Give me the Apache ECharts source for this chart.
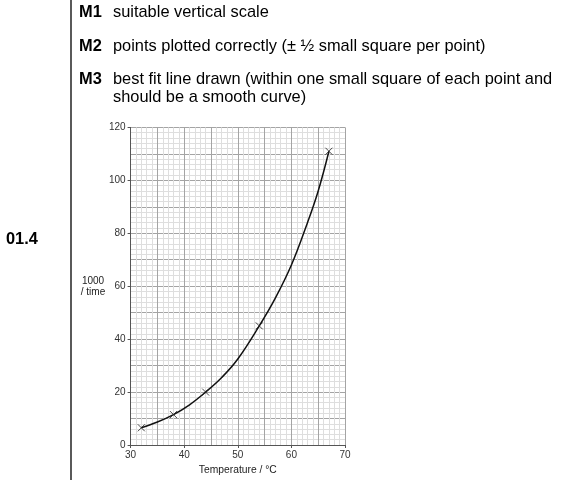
<!DOCTYPE html>
<html><head><meta charset="utf-8">
<script src="https://cdn.jsdelivr.net/npm/echarts@6/dist/echarts.min.js"></script>
<style>html,body{margin:0;padding:0;background:#fff}#c{width:561px;height:480px}</style>
</head><body><div id="c"></div>
<script>
// Data
var pointsX = [32, 38, 44, 54, 67];
var pointsY = [6.5, 11.5, 20, 45, 111];
var curveX = [32, 35, 38, 41, 44, 47, 50, 54, 57, 60, 63, 65, 67];
var curveY = [6.5, 8.7, 11.5, 15.2, 20, 25.5, 32.5, 45, 55.5, 68, 84, 96, 111];
var xTicks = [30, 40, 50, 60, 70];
var yTicks = [0, 20, 40, 60, 80, 100, 120];
var markRows = [
  ['M1', 'suitable vertical scale'],
  ['M2', 'points plotted correctly (\u00b1 \u00bd small square per point)'],
  ['M3', 'best fit line drawn (within one small square of each point and'],
  ['', 'should be a smooth curve)']
];
var questionLabel = '01.4';
var yName = '1000\n/ time';
var xName = 'Temperature / \u00b0C';

var chart = echarts.init(document.getElementById('c'), null, {renderer: 'canvas'});
var FONT = '"Liberation Sans", Arial, sans-serif';
var rowY = [12, 46, 79, 97];
var graphics = [
  {type: 'line', shape: {x1: 71, y1: 0, x2: 71, y2: 480}, style: {stroke: '#000', lineWidth: 1.3}, z: 10},
  {type: 'text', x: 6, y: 239, style: {text: questionLabel, font: 'bold 16.4px ' + FONT, fill: '#000', textVerticalAlign: 'middle'}},
  {type: 'text', x: 93, y: 287, style: {text: yName, font: '10px ' + FONT, fill: '#222', textAlign: 'center', textVerticalAlign: 'middle', lineHeight: 11}}
];
markRows.forEach(function (r, i) {
  if (r[0]) graphics.push({type: 'text', x: 79, y: rowY[i], style: {text: r[0], font: 'bold 16.4px ' + FONT, fill: '#000', textVerticalAlign: 'middle'}});
  graphics.push({type: 'text', x: 113, y: rowY[i], style: {text: r[1], font: '16.4px ' + FONT, fill: '#000', textVerticalAlign: 'middle'}});
});

var grid = {left: 130.6, right: 216, top: 127.4, bottom: 32.6, containLabel: false};
var labelStyle = {color: '#333', fontSize: 10, fontFamily: FONT};
chart.setOption({
  animation: false,
  backgroundColor: '#fff',
  graphic: graphics,
  grid: grid,
  xAxis: [
    {type: 'value', min: xTicks[0], max: xTicks[xTicks.length - 1], interval: 10,
     axisLine: {show: true, lineStyle: {color: '#555', width: 1}},
     axisTick: {show: true, length: 3, lineStyle: {color: '#555'}},
     axisLabel: {show: true, margin: 5, ...labelStyle},
     splitLine: {show: false},
     name: xName, nameLocation: 'middle', nameGap: 20, nameTextStyle: {color: '#222', fontSize: 10.3, fontFamily: FONT}, z: 5},
    {type: 'value', min: 30, max: 70, interval: 5, position: 'bottom',
     axisLine: {show: false}, axisTick: {show: false}, axisLabel: {show: false},
     splitLine: {show: true, lineStyle: {color: '#a4a4a4', width: 1}},
     minorTick: {show: false, splitNumber: 5},
     minorSplitLine: {show: true, lineStyle: {color: '#dedede', width: 1}}, z: 0}
  ],
  yAxis: [
    {type: 'value', min: yTicks[0], max: yTicks[yTicks.length - 1], interval: 20,
     axisLine: {show: true, lineStyle: {color: '#555', width: 1}},
     axisTick: {show: true, length: 3, lineStyle: {color: '#555'}},
     axisLabel: {show: true, margin: 5, ...labelStyle},
     splitLine: {show: false}, z: 5},
    {type: 'value', min: 0, max: 120, interval: 10, position: 'left',
     axisLine: {show: false}, axisTick: {show: false}, axisLabel: {show: false},
     splitLine: {show: true, lineStyle: {color: '#a4a4a4', width: 1}},
     minorTick: {show: false, splitNumber: 5},
     minorSplitLine: {show: true, lineStyle: {color: '#dedede', width: 1}}, z: 0}
  ],
  series: [
    {type: 'line', xAxisIndex: 0, yAxisIndex: 0, smooth: 0.4, showSymbol: false, silent: true,
     data: curveX.map(function (x, i) { return [x, curveY[i]]; }),
     lineStyle: {color: '#111', width: 1.5}, z: 6},
    {type: 'scatter', xAxisIndex: 0, yAxisIndex: 0,
     symbol: 'path://M0,0L10,10M10,0L0,10', symbolSize: 7,
     itemStyle: {color: 'none', borderColor: '#222', borderWidth: 1},
     data: pointsX.map(function (x, i) { return [x, pointsY[i]]; }), z: 7}
  ]
});
</script></body></html>
